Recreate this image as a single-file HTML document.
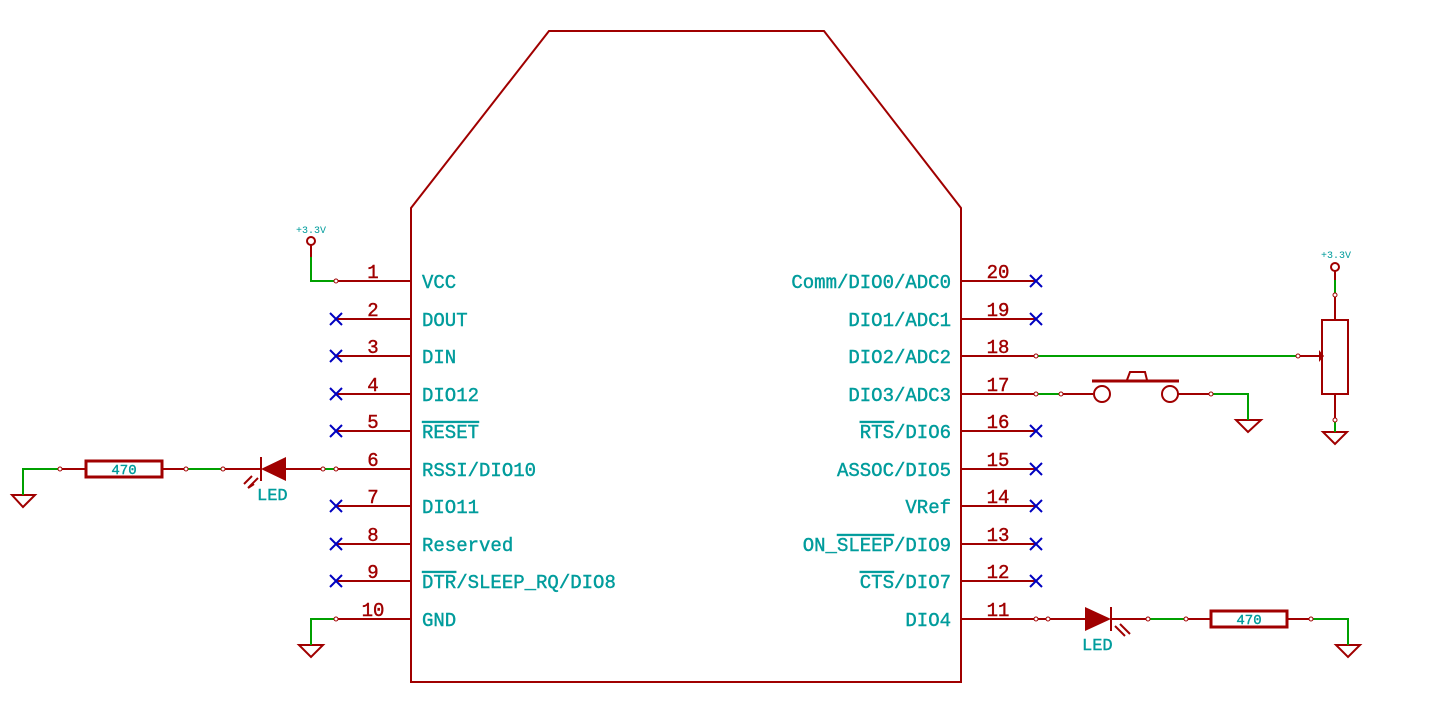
<!DOCTYPE html>
<html><head><meta charset="utf-8"><style>
html,body{margin:0;padding:0;background:#fff;}
svg{display:block}
text{font-family:"Liberation Mono",monospace;}
.l{fill:#009c9c;stroke:#009c9c;stroke-width:0.4;font-size:19px;letter-spacing:0px}
.n{fill:#a00000;stroke:#a00000;stroke-width:0.4;font-size:19px;text-anchor:middle}
.s{fill:#009c9c;font-size:10px;text-anchor:middle}
</style></head><body>
<svg width="1433" height="709" viewBox="0 0 1433 709" xmlns="http://www.w3.org/2000/svg">
<g fill="none" stroke="#a00000" stroke-width="2">
<polygon points="411,208 549,31 824,31 961,208 961,682 411,682"/>
<path d="M336,281H411M336,319H411M336,356H411M336,394H411M336,431H411M323,469H411M336,506H411M336,544H411M336,581H411M336,619H411"/>
<path d="M1036,281H961M1036,319H961M1036,356H961M1036,394H961M1036,431H961M1036,469H961M1036,506H961M1036,544H961M1036,581H961M1036,619H961"/>
<circle cx="311" cy="241" r="4"/><path d="M311,245V257"/>
<path d="M60,469H86M162,469H186M223,469H260M286,469H323"/>
<rect x="86" y="461" width="76" height="16" stroke-width="3"/>
<path d="M261,457V481"/>
<path d="M12,495H35L23,507Z"/>
<path d="M258,478L248,488M254,484L248,488M252,476L244,484"/>
<path d="M299,645H323L311,657Z"/>
<circle cx="1335" cy="267" r="4"/><path d="M1335,271V280M1335,295V320M1335,394V420"/>
<rect x="1322" y="320" width="26" height="74"/>
<path d="M1298,356H1320"/>
<path d="M1323,432H1347L1335,444Z"/>
<path d="M1061,394H1093M1178,394H1211"/>
<circle cx="1102" cy="394" r="8"/><circle cx="1170" cy="394" r="8"/>
<path d="M1092,381H1179" stroke-width="3"/>
<path d="M1127,380L1130,372H1145L1147,380"/>
<path d="M1236,420H1261L1248,432Z"/>
<path d="M1036,619H1085M1111,619H1148M1186,619H1211M1287,619H1311"/>
<path d="M1111,607V631"/>
<rect x="1211" y="611" width="76" height="16" stroke-width="3"/>
<path d="M1336,645H1360L1348,657Z"/>
<path d="M1115,626L1125,636M1120,624L1130,634"/>
</g>
<g fill="#a00000">
<path d="M261,469L286,457V481Z"/>
<path d="M1111,619L1085,607V631Z"/>
<path d="M1319,350L1324,356L1319,362Z"/>
</g>
<g fill="none" stroke="#00a000" stroke-width="2">
<path d="M311,257V281H336"/>
<path d="M23,495V469H60M186,469H223M323,469H336"/>
<path d="M336,619H311V645"/>
<path d="M1036,356H1298"/>
<path d="M1335,280V295M1335,420V432"/>
<path d="M1036,394H1061M1211,394H1248V420"/>
<path d="M1148,619H1186M1311,619H1348V645"/>
</g>
<g fill="#fff" stroke="#a00000" stroke-width="1">
<circle cx="336" cy="281" r="2"/><circle cx="60" cy="469" r="2"/><circle cx="186" cy="469" r="2"/><circle cx="223" cy="469" r="2"/><circle cx="323" cy="469" r="2"/><circle cx="336" cy="469" r="2"/><circle cx="336" cy="619" r="2"/>
<circle cx="1036" cy="356" r="2"/><circle cx="1298" cy="356" r="2"/><circle cx="1335" cy="295" r="2"/><circle cx="1335" cy="420" r="2"/>
<circle cx="1036" cy="394" r="2"/><circle cx="1061" cy="394" r="2"/><circle cx="1211" cy="394" r="2"/>
<circle cx="1036" cy="619" r="2"/><circle cx="1048" cy="619" r="2"/><circle cx="1148" cy="619" r="2"/><circle cx="1186" cy="619" r="2"/><circle cx="1311" cy="619" r="2"/>
</g>
<g stroke="#0000c0" stroke-width="2">
<path d="M330,313l12,12m0,-12l-12,12M330,350l12,12m0,-12l-12,12M330,388l12,12m0,-12l-12,12M330,425l12,12m0,-12l-12,12M330,500l12,12m0,-12l-12,12M330,538l12,12m0,-12l-12,12M330,575l12,12m0,-12l-12,12"/>
<path d="M1030,275l12,12m0,-12l-12,12M1030,313l12,12m0,-12l-12,12M1030,425l12,12m0,-12l-12,12M1030,463l12,12m0,-12l-12,12M1030,500l12,12m0,-12l-12,12M1030,538l12,12m0,-12l-12,12M1030,575l12,12m0,-12l-12,12"/>
</g>
<g class="n">
<text x="373" y="278">1</text><text x="373" y="316">2</text><text x="373" y="353">3</text><text x="373" y="391">4</text><text x="373" y="428">5</text><text x="373" y="466">6</text><text x="373" y="503">7</text><text x="373" y="541">8</text><text x="373" y="578">9</text><text x="373" y="616">10</text>
<text x="998" y="278">20</text><text x="998" y="316">19</text><text x="998" y="353">18</text><text x="998" y="391">17</text><text x="998" y="428">16</text><text x="998" y="466">15</text><text x="998" y="503">14</text><text x="998" y="541">13</text><text x="998" y="578">12</text><text x="998" y="616">11</text>
</g>
<g class="l">
<text x="422" y="288">VCC</text><text x="422" y="326">DOUT</text><text x="422" y="363">DIN</text><text x="422" y="401">DIO12</text>
<text x="422" y="438" style="text-decoration:overline">RESET</text>
<text x="422" y="476">RSSI/DIO10</text><text x="422" y="513">DIO11</text><text x="422" y="551">Reserved</text>
<text x="422" y="588"><tspan style="text-decoration:overline">DTR</tspan>/SLEEP_RQ/DIO8</text>
<text x="422" y="626">GND</text>
</g>
<g class="l" text-anchor="end">
<text x="951" y="288">Comm/DIO0/ADC0</text><text x="951" y="326">DIO1/ADC1</text><text x="951" y="363">DIO2/ADC2</text><text x="951" y="401">DIO3/ADC3</text>
<text x="951" y="438"><tspan style="text-decoration:overline">RTS</tspan>/DIO6</text>
<text x="951" y="476">ASSOC/DIO5</text><text x="951" y="513">VRef</text>
<text x="951" y="551">ON_<tspan style="text-decoration:overline">SLEEP</tspan>/DIO9</text>
<text x="951" y="588"><tspan style="text-decoration:overline">CTS</tspan>/DIO7</text>
<text x="951" y="626">DIO4</text>
</g>
<text class="l" x="257" y="500" style="font-size:17px">LED</text>
<text class="l" x="1082" y="650" style="font-size:17px">LED</text>
<text class="l" x="124" y="474" text-anchor="middle" style="font-size:14px;letter-spacing:0">470</text>
<text class="l" x="1249" y="624" text-anchor="middle" style="font-size:14px;letter-spacing:0">470</text>
<text class="s" x="311" y="233">+3.3V</text>
<text class="s" x="1336" y="258">+3.3V</text>
</svg>
</body></html>
